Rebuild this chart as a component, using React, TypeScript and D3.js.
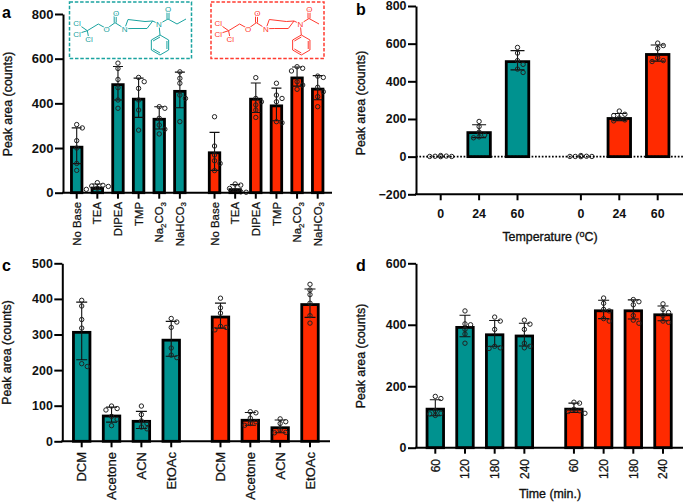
import React from 'react'
import * as d3 from 'd3'

const TEAL = '#00928f'
const RED = '#ff2a00'
const FONT = '"Liberation Sans", Arial, sans-serif'

// panel a
const baseLabels = ['No Base', 'TEA', 'DIPEA', 'TMP', 'Na2CO3', 'NaHCO3']
const baseMeans = [210, 27, 490, 425, 335, 460, 185, 20, 425, 395, 520, 470]
const baseErrors = [80, 12, 75, 88, 50, 80, 85, 16, 66, 73, 43, 54]
const baseDots = [
  [305, 290, 233, 200, 131, 100], [45, 33, 30, 28, 20, 15], [580, 556, 507, 470, 415, 378],
  [516, 497, 467, 415, 370, 280], [385, 378, 333, 303, 284, 263], [541, 512, 490, 437, 422, 318],
  [340, 209, 169, 143, 131, 99], [39, 34, 19, 9, 4, 2], [515, 422, 407, 393, 370, 337],
  [490, 437, 422, 407, 318, 313], [564, 557, 545, 497, 482, 463], [522, 516, 472, 452, 430, 385],
]

// panel b
const tempLabels = ['0', '24', '60']
const tempMeans = [2, 135, 512, 2, 210, 550]
const tempErrors = [0, 34, 51, 0, 19, 43]
const tempDots = [
  [6, 3, 2, 1, 1, 0], [187, 160, 130, 115, 105, 100], [580, 550, 510, 490, 465, 447],
  [6, 2, 1, 1, 1, 0], [242, 225, 218, 205, 195, 190], [603, 590, 575, 525, 510, 505],
]

// panel c
const solventLabels = ['DCM', 'Acetone', 'ACN', 'EtOAc']
const solventMeans = [310, 75, 60, 288, 353, 63, 42, 388]
const solventErrors = [81, 21, 24, 49, 35, 18, 18, 40]
const solventDots = [
  [396, 380, 342, 318, 218, 210], [99, 92, 88, 70, 62, 44], [99, 75, 57, 50, 40, 35],
  [345, 335, 320, 262, 242, 235], [402, 375, 360, 323, 320, 313], [83, 80, 65, 55, 50, 45],
  [63, 55, 50, 32, 25, 24], [441, 425, 412, 388, 353, 332],
]

// panel d
const timeLabels = ['60', '120', '180', '240']
const timeMeans = [130, 396, 372, 368, 130, 450, 450, 437]
const timeErrors = [26, 35, 42, 37, 15, 30, 31, 24]
const timeDots = [
  [167, 160, 120, 112, 110, 105], [445, 403, 400, 385, 370, 340], [425, 412, 385, 330, 325, 323],
  [415, 402, 385, 340, 330, 325], [148, 145, 125, 120, 118, 112], [487, 470, 450, 445, 420, 412],
  [482, 475, 465, 430, 415, 405], [468, 450, 440, 430, 412, 408],
]

type PanelOpts = {
  letter: string
  letterY: number
  labels: string[]
  means: number[]
  errors: number[]
  dots: number[][]
  axisX: number
  endX: number
  firstX: number
  lastX: number
  gap: number
  barW: number
  capW: number
  domain: [number, number]
  range: [number, number]
  ticks: number[]
  tickSize: number
  titleX: number
  titleY: number
  labelSize: number
  rotate: boolean
  labelY: number
  xTitle?: string
  xTitleY?: number
}

const BAR_STROKE = 2.8

// digits in chemical formulas drop to subscript
const writeLabel = (node: any, label: string) => {
  if (!/\d/.test(label) || /^\d+$/.test(label)) {
    node.text(label)
    return
  }
  label.split(/(\d)/).filter(Boolean).forEach((part, i, all) => {
    const isSub = /\d/.test(part)
    node.append('tspan')
      .attr('dy', isSub ? 2.5 : (i > 0 && /\d/.test(all[i - 1]) ? -2.5 : 0))
      .attr('font-size', isSub ? 8 : null)
      .text(part)
  })
}

const swarmOffsets = (values: number[], y: d3.ScaleLinear<number, number>) => {
  const placed: { x: number, y: number }[] = []
  const steps = [0, 5.6, -5.6, 11, -11, 15, -15]
  return values.map((v) => {
    const py = y(v)
    const x = steps.find((s) => placed.every((p) => Math.hypot(p.x - s, p.y - py) >= 4.6)) ?? 0
    placed.push({ x, y: py })
    return x
  })
}

const drawPanel = (svg: any, o: PanelOpts) => {
  const n = o.labels.length
  const total = n * 2
  const slots = d3.range(total).map((i) => i + (i >= n ? o.gap : 0))
  const x = d3.scaleLinear().domain([0, total - 1 + o.gap]).range([o.firstX, o.lastX])
  const y = d3.scaleLinear().domain(o.domain).range(o.range)
  const g = svg.append('g').attr('font-family', FONT)
  const allLabels = [...o.labels, ...o.labels]

  g.append('text').attr('x', o.titleX < 100 ? 2 : 356).attr('y', o.letterY)
    .attr('font-size', 16).attr('font-weight', 700).text(o.letter)

  // bars, the outer edge of the outline is what marks the value
  g.selectAll('rect.bar')
    .data(o.means)
    .join('rect')
    .attr('class', 'bar')
    .attr('x', (_: number, i: number) => x(slots[i]) - o.barW / 2)
    .attr('width', o.barW)
    .attr('y', (d: number) => y(d) + BAR_STROKE / 2)
    .attr('height', (d: number) => Math.max(0, y(0) - y(d) - BAR_STROKE / 2))
    .attr('fill', (_: number, i: number) => (i < n ? TEAL : RED))
    .attr('stroke', '#000')
    .attr('stroke-width', BAR_STROKE)

  // error bars
  o.errors.forEach((e, i) => {
    if (!e) return
    const cx = x(slots[i])
    const path = d3.path()
    path.moveTo(cx, y(o.means[i] - e))
    path.lineTo(cx, y(o.means[i] + e))
    path.moveTo(cx - o.capW, y(o.means[i] + e))
    path.lineTo(cx + o.capW, y(o.means[i] + e))
    path.moveTo(cx - o.capW, y(o.means[i] - e))
    path.lineTo(cx + o.capW, y(o.means[i] - e))
    g.append('path').attr('d', path.toString()).attr('fill', 'none').attr('stroke', '#111').attr('stroke-width', 1.1)
  })

  // replicate points
  o.dots.forEach((vals, i) => {
    const offs = swarmOffsets(vals, y)
    g.append('g').selectAll('circle')
      .data(vals)
      .join('circle')
      .attr('cx', (_: number, k: number) => x(slots[i]) + offs[k])
      .attr('cy', (d: number) => y(d))
      .attr('r', 2.2)
      .attr('fill', 'none')
      .attr('stroke', '#222')
      .attr('stroke-width', 1)
  })

  // y axis
  const yAxis = g.append('g')
    .attr('transform', `translate(${o.axisX},0)`)
    .call(d3.axisLeft(y).tickValues(o.ticks).tickSize(8).tickPadding(1.5).tickSizeOuter(0))
  yAxis.selectAll('line').attr('stroke', '#000').attr('stroke-width', 2)
  yAxis.select('.domain').attr('stroke', '#000').attr('stroke-width', 2)
  yAxis.selectAll('text').attr('font-family', FONT).attr('font-size', o.tickSize).attr('font-weight', 700).attr('fill', '#111')

  // x axis sits at the bottom of the y range
  const bottom = y(o.domain[0])
  g.append('line').attr('x1', o.axisX - 1).attr('x2', o.endX).attr('y1', bottom).attr('y2', bottom)
    .attr('stroke', '#000').attr('stroke-width', 2)
  if (o.domain[0] < 0) {
    g.append('line').attr('x1', o.axisX).attr('x2', o.endX).attr('y1', y(0)).attr('y2', y(0))
      .attr('stroke', '#000').attr('stroke-width', 1.6).attr('stroke-dasharray', '1.7 1.7')
  }
  slots.forEach((s, i) => {
    const cx = x(s)
    g.append('line').attr('x1', cx).attr('x2', cx).attr('y1', bottom).attr('y2', bottom + 6)
      .attr('stroke', '#000').attr('stroke-width', 2)
    const t = g.append('text').attr('fill', '#111').attr('font-size', o.labelSize)
    if (o.rotate) {
      t.attr('transform', `translate(${cx + o.labelSize * 0.36},${o.labelY}) rotate(-90)`).attr('text-anchor', 'end')
        .attr('stroke', '#111').attr('stroke-width', 0.25)
    } else {
      t.attr('x', cx).attr('y', o.labelY).attr('text-anchor', 'middle').attr('font-weight', 700)
    }
    writeLabel(t, allLabels[i])
  })

  // y title, a hair of stroke to get the heavier look
  g.append('text')
    .attr('transform', `translate(${o.titleX},${o.titleY}) rotate(-90)`)
    .attr('text-anchor', 'middle')
    .attr('font-size', 12.4)
    .attr('fill', '#111')
    .attr('stroke', '#111')
    .attr('stroke-width', 0.35)
    .text('Peak area (counts)')

  if (o.xTitle) {
    const t = g.append('text').attr('x', 550).attr('y', o.xTitleY).attr('text-anchor', 'middle')
      .attr('font-size', 12.4).attr('fill', '#111').attr('stroke', '#111').attr('stroke-width', 0.35)
    if (o.xTitle.includes('^')) {
      const [a, b, c] = o.xTitle.split('^')
      t.append('tspan').text(a)
      t.append('tspan').attr('dy', -4).attr('font-size', 9).text(b)
      t.append('tspan').attr('dy', 4).text(c)
    } else {
      t.text(o.xTitle)
    }
  }
}

const ringBonds = [
  [87.3, 30.7, 98.3, 24], [98.3, 24, 106.7, 28.7], [106.7, 28.7, 115, 22.7], [124.7, 28.7, 115, 22.7],
  [114.2, 22.7, 114.2, 13.3], [116.2, 22.7, 116.2, 13.3],
  [87.3, 30.7, 77, 23.5], [87.3, 30.7, 77, 34], [87.3, 30.7, 89, 39.5],
  [124.7, 28.7, 128, 19.5], [128, 19.5, 145, 21.5], [145, 21.5, 152.7, 21],
  [124.7, 28.7, 133, 28.5], [133, 28.5, 147, 28.5], [147, 28.5, 152.7, 21], [152.7, 21, 159, 24],
  [159, 24, 160, 35],
]
const propionylTail = [[159, 24, 168, 19], [167, 19, 167, 10], [169, 19, 169, 10], [168, 19, 177, 24], [177, 24, 186, 19]]
const acetylTail = [[158.7, 24, 167.7, 18.5], [166.7, 18.5, 166.7, 9.5], [168.7, 18.5, 168.7, 9.5], [167.7, 18.5, 177.7, 24]]

const drawMolecule = (svg: any, color: string, dx: number, box: number[], tail: number[][], oY: number) => {
  const g = svg.append('g').attr('font-family', FONT)
  g.append('rect').attr('x', box[0]).attr('y', box[1]).attr('width', box[2] - box[0]).attr('height', box[3] - box[1])
    .attr('fill', 'none').attr('stroke', color).attr('stroke-width', 1.5).attr('stroke-dasharray', '3.5 1.8')
  const m = g.append('g').attr('transform', `translate(${dx},0)`)
  const bonds = [...ringBonds, ...tail]
  m.selectAll('line').data(bonds).join('line')
    .attr('x1', (d: number[]) => d[0]).attr('y1', (d: number[]) => d[1])
    .attr('x2', (d: number[]) => d[2]).attr('y2', (d: number[]) => d[3])
    .attr('stroke', color).attr('stroke-width', 1)
  // phenyl ring
  const hex = d3.range(6).map((i) => {
    const a = (Math.PI / 3) * i - Math.PI / 2
    return [160 + 10 * Math.cos(a), 45 + 10 * Math.sin(a)] as [number, number]
  })
  const inner = d3.range(3).map((i) => {
    const a = (Math.PI / 3) * (2 * i) - Math.PI / 6
    const b = a + Math.PI / 3
    return `M${160 + 8 * Math.cos(a)},${45 + 8 * Math.sin(a)}L${160 + 8 * Math.cos(b)},${45 + 8 * Math.sin(b)}`
  }).join('')
  m.append('path').attr('d', d3.line()(hex) + 'Z' + inner).attr('fill', 'none').attr('stroke', color).attr('stroke-width', 1)
  const atoms: [string, number, number][] = [
    ['Cl', 77, 23.5], ['Cl', 77, 34], ['Cl', 89, 39.5], ['O', 106.7, 28.7], ['O', 116, 13],
    ['N', 124.7, 28.7], ['N', 159, 24], ['O', 168, oY],
  ]
  m.selectAll('text').data(atoms).join('text')
    .attr('x', (d: any) => d[1]).attr('y', (d: any) => d[2] + 2.8)
    .attr('text-anchor', 'middle').attr('font-size', 8).attr('fill', color)
    .attr('stroke', '#fff').attr('stroke-width', 2).attr('paint-order', 'stroke')
    .text((d: any) => d[0])
}

const App = () => {
  const svgRef = React.useRef<SVGSVGElement>(null)

  React.useEffect(() => {
    const svg = d3.select(svgRef.current)
    svg.selectAll('*').remove()

    drawPanel(svg, {
      letter: 'a', letterY: 18, labels: baseLabels, means: baseMeans, errors: baseErrors, dots: baseDots,
      axisX: 63, endX: 332, firstX: 76.7, lastX: 317.7, gap: 0.68, barW: 10.5, capW: 5,
      domain: [0, 800], range: [192.7, 14], ticks: [0, 200, 400, 600, 800], tickSize: 13,
      titleX: 12, titleY: 104, labelSize: 11.4, rotate: true, labelY: 202,
    })
    drawPanel(svg, {
      letter: 'b', letterY: 15, labels: tempLabels, means: tempMeans, errors: tempErrors, dots: tempDots,
      axisX: 416, endX: 683, firstX: 440.7, lastX: 657.7, gap: 0.65, barW: 22.5, capW: 7,
      domain: [-200, 800], range: [194.3, 6], ticks: [-200, 0, 200, 400, 600, 800], tickSize: 12.4,
      titleX: 365, titleY: 103, labelSize: 12.4, rotate: false, labelY: 218,
      xTitle: 'Temperature (^o^C)', xTitleY: 241,
    })
    drawPanel(svg, {
      letter: 'c', letterY: 271, labels: solventLabels, means: solventMeans, errors: solventErrors, dots: solventDots,
      axisX: 62.3, endX: 330, firstX: 81.7, lastX: 310, gap: 0.65, barW: 16.5, capW: 5.5,
      domain: [0, 500], range: [441.3, 263.3], ticks: [0, 100, 200, 300, 400, 500], tickSize: 12.4,
      titleX: 11, titleY: 352.5, labelSize: 13, rotate: true, labelY: 452,
    })
    drawPanel(svg, {
      letter: 'd', letterY: 271, labels: timeLabels, means: timeMeans, errors: timeErrors, dots: timeDots,
      axisX: 416, endX: 683, firstX: 435.3, lastX: 663, gap: 0.67, barW: 16.5, capW: 5.5,
      domain: [0, 600], range: [447.7, 263.3], ticks: [0, 200, 400, 600], tickSize: 12.4,
      titleX: 365, titleY: 356, labelSize: 12, rotate: true, labelY: 459,
      xTitle: 'Time (min.)', xTitleY: 498,
    })

    drawMolecule(svg, '#1aa3a0', 0, [69.5, 2, 191.5, 58.5], propionylTail, 9.5)
    drawMolecule(svg, '#ff3b30', 141.3, [211, 2, 324, 58.5], acetylTail, 9)
  }, [])

  return <svg ref={svgRef} width={685} height={503} style={{ position: 'absolute', left: 0, top: 0, background: '#fff' }} />
}

export default App
